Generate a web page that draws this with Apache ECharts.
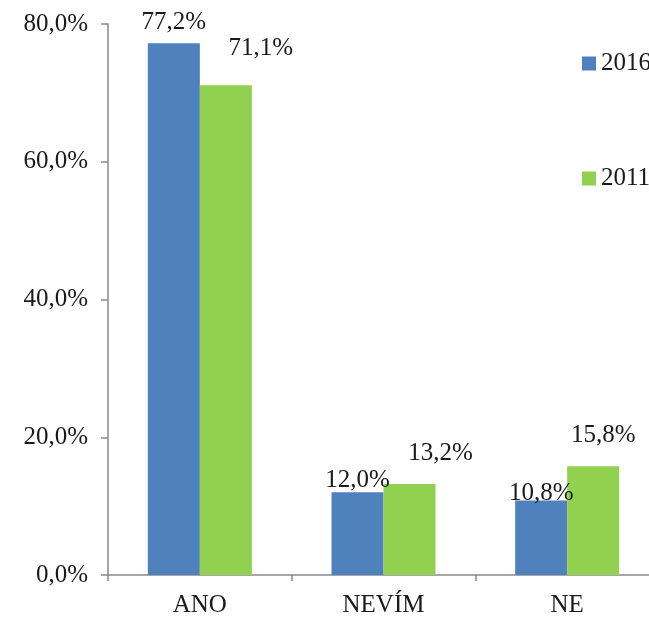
<!DOCTYPE html>
<html>
<head>
<meta charset="utf-8">
<script src="https://cdn.jsdelivr.net/npm/echarts@6/dist/echarts.min.js"></script>
<style>html,body{margin:0;padding:0;background:#fff}#c{width:649px;height:618px}</style>
</head>
<body>
<div id="c"></div>
<script>
const categories = ['ANO', 'NEVÍM', 'NE'];
const series2016 = [77.2, 12.0, 10.8];
const series2011 = [71.1, 13.2, 15.8];
const yTicks = [0, 20, 40, 60, 80];
const seriesNames = ['2016', '2011'];

// label placement tweaks (style only)
const off2016 = [[0, -3], [0, 6], [0, 10]];
const off2011 = [[35, -19], [31, -13], [10, -13]];

const FONT = '"Liberation Serif", "DejaVu Serif", serif';
const fmt = v => v.toFixed(1).replace('.', ',') + '%';

function mk(vals, offs) {
  return vals.map((v, i) => ({ value: v, label: { offset: offs[i] } }));
}

const chart = echarts.init(document.getElementById('c'), null, { renderer: 'canvas' });
chart.setOption({
  animation: false,
  backgroundColor: '#fff',
  textStyle: { fontFamily: FONT },
  grid: { left: 108, top: 24, height: 551, width: 551, containLabel: false, outerBoundsMode: 'none' },
  legend: {
    orient: 'vertical', left: 582, top: 51, itemGap: 90, padding: 0,
    itemWidth: 14, itemHeight: 14, icon: 'rect',
    textStyle: { fontFamily: FONT, fontSize: 25, color: '#1a1a1a' },
    data: seriesNames
  },
  xAxis: {
    type: 'category', data: categories,
    axisLine: { lineStyle: { color: '#898989', width: 1.5 } },
    axisTick: { show: true, length: 6, lineStyle: { color: '#898989', width: 1.5 } },
    axisLabel: { margin: 18, fontFamily: FONT, fontSize: 25, color: '#1a1a1a' }
  },
  yAxis: {
    type: 'value', min: yTicks[0], max: yTicks[yTicks.length - 1], interval: yTicks[1] - yTicks[0],
    splitLine: { show: false },
    axisLine: { show: true, lineStyle: { color: '#898989', width: 1.5 } },
    axisTick: { show: true, length: 7, lineStyle: { color: '#898989', width: 1.5 } },
    axisLabel: { margin: 20, fontFamily: FONT, fontSize: 25, color: '#1a1a1a', formatter: v => fmt(v) }
  },
  series: [
    {
      name: seriesNames[0], type: 'bar', barWidth: 52, barGap: '0%',
      itemStyle: { color: '#4F81BD' },
      label: { show: true, position: 'top', distance: 5, fontFamily: FONT, fontSize: 25, color: '#1a1a1a', formatter: p => fmt(p.value) },
      data: mk(series2016, off2016)
    },
    {
      name: seriesNames[1], type: 'bar', barWidth: 52, barGap: '0%',
      itemStyle: { color: '#92D050' },
      label: { show: true, position: 'top', distance: 5, fontFamily: FONT, fontSize: 25, color: '#1a1a1a', formatter: p => fmt(p.value) },
      data: mk(series2011, off2011)
    }
  ]
});
</script>
</body>
</html>
